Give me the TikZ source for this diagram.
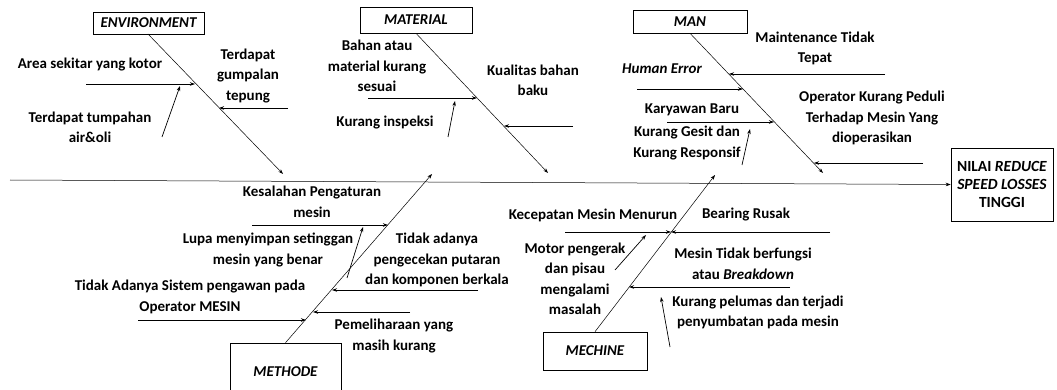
\documentclass[tikz,border=0pt]{standalone}
\usepackage{fontspec}
\setmainfont{Carlito}
\usetikzlibrary{arrows.meta}
\tikzset{
	kotak/.style = {draw, line width=0.6pt, inner sep=0pt, font=\fontsize{15}{19}\selectfont\bfseries\itshape},
	sebab/.style = {align=center, inner sep=0pt, font=\fontsize{15}{20.5}\selectfont\bfseries},
	tulang/.style = {line width=0.5pt, -{Stealth[length=5pt,width=3.5pt]}},
	rusuk/.style = {line width=0.7pt, -{Stealth[length=5pt,width=3.5pt]}}
}
\begin{document}
\begin{tikzpicture}[x=1pt, y=-1pt]
	\useasboundingbox (0,0) rectangle (1057,390);
	\node[kotak, minimum width=111pt, minimum height=22pt] (env) at (148.5,23) {ENVIRONMENT};
	\node[kotak, minimum width=112pt, minimum height=26pt] (mat) at (416,20) {MATERIAL};
	\node[kotak, minimum width=114pt, minimum height=23pt] (man) at (690,21.5) {MAN};
	\node[kotak, minimum width=111pt, minimum height=58pt] (met) at (285.5,372) {METHODE};
	\node[kotak, minimum width=104pt, minimum height=38pt] (mec) at (595,351) {MECHINE};
	\node[kotak, minimum width=102pt, minimum height=73pt, align=center, font=\fontsize{15.5}{18}\selectfont\bfseries] (nilai) at (1002,184.5) {NILAI \textit{REDUCE}\\\textit{SPEED LOSSES}\\TINGGI};
	\coordinate (ekor) at (10,180);
	\draw[tulang] (ekor) -- (nilai.west);
	\coordinate (envtip) at (283,174);
	\coordinate (mattip) at (548,173);
	\coordinate (mantip) at (823,173);
	\coordinate (mettip) at (432,174);
	\coordinate (mectip) at (715,175);
	\draw[tulang] (148,34) -- (envtip);
	\draw[tulang] (mat.south) -- (mattip);
	\draw[tulang] (man.south) -- (mantip);
	\draw[tulang] (met.north) -- (mettip);
	\draw[tulang] (mec.north) -- (mectip);
	\node[sebab] (e1) at (90,65) {Area sekitar yang kotor};
	\node[sebab] (e2) at (90,127.5) {Terdapat tumpahan\\air\&oli};
	\node[sebab] (e3) at (248,76) {Terdapat\\gumpalan\\tepung};
	\draw[rusuk] (86,84) -- (195,84);
	\draw[rusuk] (162,137) -- (180,86);
	\draw[rusuk] (288,108) -- (219,108);
	\node[sebab] (m1) at (377,66) {Bahan atau\\material kurang\\sesuai};
	\node[sebab] (m2) at (385,123) {Kurang inspeksi};
	\node[sebab] (m3) at (533,80.5) {Kualitas bahan\\baku};
	\draw[rusuk] (368,98) -- (477,98);
	\draw[rusuk] (448,137) -- (455,101);
	\draw[rusuk] (573,126) -- (504,126);
	\node[sebab] (p1) at (815,48.5) {Maintenance Tidak\\Tepat};
	\node[sebab] (p2) at (662,69) {\itshape Human Error};
	\node[sebab] (p3) at (692,110) {Karyawan Baru};
	\node[sebab] (p4) at (687,143) {Kurang Gesit dan\\Kurang Responsif};
	\node[sebab] (p5) at (872,118) {Operator Kurang Peduli\\Terhadap Mesin Yang\\dioperasikan};
	\draw[rusuk] (885,74) -- (729,74);
	\draw[rusuk] (637,89) -- (743,89);
	\draw[rusuk] (667,122) -- (774,122);
	\draw[rusuk] (742,165) -- (750,129);
	\draw[rusuk] (923,163) -- (814,163);
	\node[sebab] (t1) at (312,202) {Kesalahan Pengaturan\\mesin};
	\node[sebab] (t2) at (268,250) {Lupa menyimpan setinggan\\mesin yang benar};
	\node[sebab] (t3) at (190,297) {Tidak Adanya Sistem pengawan pada\\Operator MESIN};
	\node[sebab] (t4) at (437,260) {Tidak adanya\\pengecekan putaran\\dan komponen berkala};
	\node[sebab] (t5) at (394,336) {Pemeliharaan yang\\masih kurang};
	\draw[rusuk] (252,225) -- (388,225);
	\draw[rusuk] (347,278) -- (363,227);
	\draw[rusuk] (138,320) -- (306,320);
	\draw[rusuk] (478,290) -- (332,290);
	\draw[rusuk] (410,312) -- (313,312);
	\node[sebab] (k1) at (593,215) {Kecepatan Mesin Menurun};
	\node[sebab] (k2) at (746,215) {Bearing Rusak};
	\node[sebab] (k3) at (575,279) {Motor pengerak\\dan pisau\\mengalami\\masalah};
	\node[sebab] (k4) at (743,264) {Mesin Tidak berfungsi\\atau \textit{Breakdown}};
	\node[sebab] (k5) at (758,312.5) {Kurang pelumas dan terjadi\\penyumbatan pada mesin};
	\draw[rusuk] (565,232) -- (671,232);
	\draw[rusuk] (830,232) -- (671,232);
	\draw[rusuk] (615,270) -- (646,235);
	\draw[rusuk] (790,287) -- (629,287);
	\draw[rusuk] (670,347) -- (661,297);
\end{tikzpicture}
\end{document}
